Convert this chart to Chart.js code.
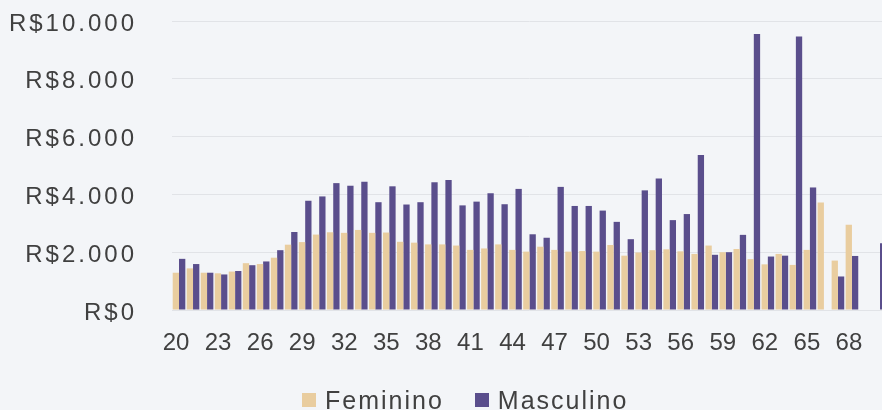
<!DOCTYPE html>
<html>
<head>
<meta charset="utf-8">
<script src="https://cdn.jsdelivr.net/npm/chart.js@4"></script>
<style>
  html, body { margin: 0; padding: 0; width: 882px; height: 410px; overflow: hidden; background: #f3f5f8; }
  #wrap { position: relative; width: 882px; height: 410px; overflow: hidden; }
  #salario-chart { position: absolute; left: 0; top: 0; }
  .legenda { position: absolute; top: 386px; left: 302px; display: flex; align-items: center;
    font-family: "Liberation Sans", Arial, sans-serif; font-size: 25px; letter-spacing: 2px; color: #404040; line-height: 28px; }
  .legenda span.cx { display: inline-block; width: 14px; height: 14px; margin-right: 9px; }
  .legenda .item { display: flex; align-items: center; margin-right: 31px; }
</style>
</head>
<body>
<div id="wrap">
  <canvas id="salario-chart" width="887" height="410"></canvas>
  <div class="legenda">
    <div class="item"><span class="cx" style="background:#e9cd9f"></span>Feminino</div>
    <div class="item"><span class="cx" style="background:#5a4e8c"></span>Masculino</div>
  </div>
</div>
<script>
'use strict'

// idades (eixo x)
const idades = [20, 21, 22, 23, 24, 25, 26, 27, 28, 29, 30, 31, 32, 33, 34, 35, 36, 37, 38, 39,
  40, 41, 42, 43, 44, 45, 46, 47, 48, 49, 50, 51, 52, 53, 54, 55, 56, 57, 58, 59,
  60, 61, 62, 63, 64, 65, 66, 67, 68, 69, 70];

// salário médio feminino
const feminino = [1290, 1440, 1290, 1270, 1330, 1620, 1590, 1810, 2260, 2350, 2610, 2690, 2670, 2770, 2670, 2680, 2360, 2330, 2270, 2270,
  2230, 2080, 2130, 2270, 2080, 2020, 2190, 2080, 2020, 2040, 2020, 2250, 1880, 1990, 2070, 2100, 2030, 1940, 2230, 2000,
  2110, 1760, 1580, 1940, 1560, 2080, 3720, 1710, 2950, null, null];

// salário médio masculino
const masculino = [1770, 1590, 1290, 1230, 1350, 1550, 1680, 2070, 2700, 3780, 3930, 4390, 4300, 4440, 3730, 4280, 3650, 3730, 4420, 4500,
  3620, 3750, 4040, 3660, 4190, 2620, 2500, 4260, 3600, 3600, 3440, 3050, 2450, 4140, 4550, 3110, 3320, 5360, 1910, 2000,
  2600, 9550, 1850, 1880, 9460, 4240, null, 1160, 1870, null, 2310];

// rótulos do eixo y
const yTicks = [0, 2000, 4000, 6000, 8000, 10000];

function reais(v) {
  return 'R$' + String(v).replace(/\B(?=(\d{3})+(?!\d))/g, '.');
}

// espaçamento entre letras só nos rótulos do eixo y (desenhados depois das barras)
const espacamento = {
  id: 'espacamento',
  afterDatasetsDraw(chart) { chart.ctx.letterSpacing = '3px'; },
  afterDraw(chart) { chart.ctx.letterSpacing = '0px'; }
};

var context = document.querySelector('#salario-chart').getContext('2d');
new Chart(context, {
  type: 'bar',
  data: {
    labels: idades,
    datasets: [
      { label: 'Feminino', data: feminino, backgroundColor: '#e9cd9f', borderWidth: 0 },
      { label: 'Masculino', data: masculino, backgroundColor: '#5a4e8c', borderWidth: 0 }
    ]
  },
  options: {
    responsive: false,
    animation: false,
    devicePixelRatio: 1,
    categoryPercentage: 0.9,
    barPercentage: 1,
    layout: { padding: { top: 21, right: 0, left: 0, bottom: 0 } },
    plugins: {
      legend: { display: false },
      tooltip: { enabled: false }
    },
    scales: {
      x: {
        grid: { display: false },
        border: { display: false },
        ticks: {
          autoSkip: false,
          maxRotation: 0,
          padding: 11,
          labelOffset: -3,
          color: '#404040',
          font: { family: 'Liberation Sans', size: 24 },
          callback: function (v, i) { return i % 3 === 0 ? String(idades[i]) : ''; }
        },
        afterFit: function (s) { s.height = 100; s.paddingLeft = 0; s.paddingRight = 0; }
      },
      y: {
        min: 0,
        max: 10000,
        afterBuildTicks: function (s) { s.ticks = yTicks.map(v => ({ value: v })); },
        grid: { color: '#e1e3e7', drawTicks: false },
        border: { display: false },
        ticks: {
          z: 1,
          padding: 35,
          labelOffset: 3,
          color: '#404040',
          font: { family: 'Liberation Sans', size: 24 },
          callback: function (v) { return reais(v); }
        },
        afterFit: function (s) { s.width = 172; s.paddingTop = 0; s.paddingBottom = 0; }
      }
    }
  },
  plugins: [espacamento]
});
</script>
</body>
</html>
